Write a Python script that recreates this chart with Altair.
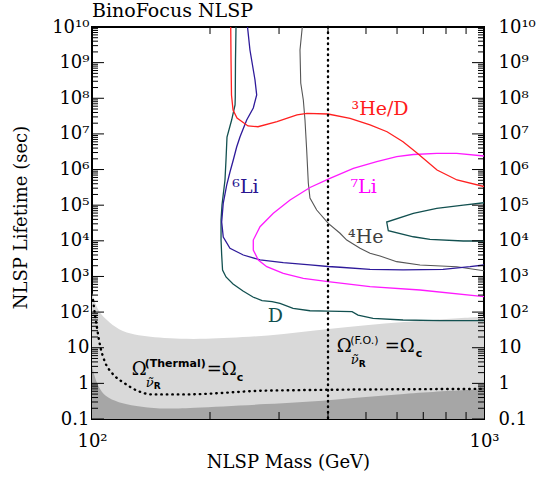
import json
import altair as alt
import pandas as pd

W, H = 392, 392

# ---------------- data ----------------
# 3He/D (red)
he3d_mass = [225.9, 226.3, 226.9, 229.0, 234.4, 250.0, 265.1, 296.5, 333.4, 353.6, 400.0,
             455.3, 512.0, 565.8, 621.5, 674.7, 758.9, 853.4, 1000.0]
he3d_life = [1e10, 1.19e9, 1.24e8, 4.69e7, 2.79e7, 1.67e7, 1.59e7, 2.2e7, 3.40e7, 3.79e7, 3.62e7,
             2.74e7, 1.78e7, 1.15e7, 6.05e6, 2.91e6, 9.7e5, 5.09e5, 3.34e5]
# D (teal), main branch
d_mass = [233.0, 232.3, 232.0, 231.7, 227.1, 221.0, 219.7, 218.4, 214.6, 213.4, 213.4, 214.2,
          215.3, 219.7, 229.0, 242.8, 257.4, 271.5, 288.0, 301.7, 325.8, 359.8, 400.0, 460.7,
          477.2, 521.1, 621.5, 772.4, 1000.0]
d_life = [1e10, 1.19e9, 1.09e8, 6.47e7, 2.45e7, 8.19e6, 1.85e6, 5.09e5, 1.01e5, 3.84e4, 1.05e4,
          4.0e3, 1.52e3, 966, 614, 391, 265, 211, 198, 176.5, 128, 109, 107, 102.5,
          82.8, 67, 60, 57.3, 57.3]
# D (teal), closed loop at high mass
dloop_mass = [1000.0, 885.6, 757.5, 660.2, 564.7, 570.0, 660.2, 728.3, 885.6, 1000.0]
dloop_life = [1.17e5, 1.01e5, 8.17e4, 5.92e4, 3.37e4, 1.92e4, 1.30e4, 1.10e4, 9.89e3, 9.89e3]
# 6Li (blue)
li6_mass = [249.3, 252.9, 260.5, 263.1, 257.9, 248.1, 238.6, 233.9, 229.3, 224.9, 220.6, 216.2,
            214.2, 216.2, 224.9, 243.2, 268.3, 307.6, 359.8, 400.0, 429.3, 512.0, 621.5, 786.2,
            921.2, 1000.0]
li6_life = [1e10, 2.26e9, 3.26e8, 1.24e8, 5.33e7, 2.45e7, 8.35e6, 4.30e6, 1.85e6, 8.53e5, 3.68e5,
            1.15e5, 3.37e4, 1.28e4, 6.17e3, 4.0e3, 2.90e3, 2.43e3, 2.10e3, 1.90e3, 1.81e3, 1.59e3,
            1.52e3, 1.59e3, 1.88e3, 2.10e3]
# 4He (grey)
he4_mass = [343.9, 339.3, 340.8, 346.0, 349.4, 352.9, 356.3, 359.8, 374.3, 400.7, 429.3, 446.5,
            482.8, 512.0, 543.0, 598.8, 686.7, 851.9, 1000.0]
he4_life = [1e10, 2.26e9, 2.68e8, 8.95e7, 2.45e7, 3.53e6, 4.19e5, 1.59e5, 7.32e4, 3.1e4, 1.63e4,
            1.05e4, 6.17e3, 4.46e3, 3.75e3, 2.6e3, 2.10e3, 1.88e3, 1.45e3]
# 7Li (magenta)
li7_mass = [1000.0, 851.9, 757.5, 660.2, 598.8, 532.6, 464.2, 404.6, 359.8, 320.1, 290.1, 268.3,
            257.9, 257.9, 265.6, 279.1, 307.6, 346.0, 400.0, 512.0, 686.7, 1000.0]
li7_life = [2.40e6, 2.86e6, 2.86e6, 2.64e6, 2.29e6, 1.66e6, 1.08e6, 5.68e5, 3.13e5, 1.40e5, 5.92e4,
            2.49e4, 1.05e4, 5.52e3, 2.90e3, 1.88e3, 1.22e3, 887, 713, 515, 417, 270]
# thermal relic line (dotted)
therm_mass = [100.6, 101.8, 103.0, 104.8, 107.9, 112.5, 121.4, 131.0, 142.3, 172.6, 284.6, 1000.0]
therm_life = [218, 82.8, 35.8, 11.9, 3.98, 1.95, 0.99, 0.61, 0.49, 0.49, 0.63, 0.70]
# shaded regions (upper boundaries)
light_mass = [100.0, 101.2, 102.8, 104.8, 109.0, 116.7, 128.8, 140.6, 156.3, 188.7,
              284.6, 400.0, 621.5, 1000.0]
light_life = [343, 218, 141.6, 92.5, 60, 31.4, 22.8, 20.4, 18.4, 17.0,
              21.3, 34.0, 53.7, 74.3]
dark_mass = [100.0, 101.8, 103.8, 107.9, 116.7, 128.8, 149.0, 172.6, 284.6, 400.0,
             621.5, 1000.0]
dark_life = [2.94, 1.41, 0.806, 0.42, 0.29, 0.23, 0.19, 0.20, 0.264, 0.33, 0.52, 0.69]
# freeze-out mass line
fo_mass = [400.0]

# curve labels
lab_text = ["³He/D", "⁷Li", "⁶Li", "⁴He", "D"]
lab_mass = [543.0, 492.9, 246.4, 499.3, 293.8]
lab_life = [3.40e7, 2.2e5, 2.2e5, 8.7e3, 53.7]
lab_color = ["#ff1a1a", "#ff00ff", "#2a1690", "#404040", "#125050"]

# Omega annotations anchors (thermal, freeze-out)
om_mass = [126.3, 421.0]
om_life = [1.72, 7.59]

# axes
y_ticks = [0.1, 1, 10, 1e2, 1e3, 1e4, 1e5, 1e6, 1e7, 1e8, 1e9, 1e10]
y_tick_labels = ["0.1", "1", "10", "10²", "10³", "10⁴", "10⁵", "10⁶", "10⁷", "10⁸", "10⁹", "10¹⁰"]
y_minor_mult = [2, 3, 4, 5, 6, 7, 8, 9]
x_ticks = [100, 1000]
x_tick_labels = ["10²", "10³"]
x_minor = [200, 300, 400, 500, 600, 700, 800, 900]

y_minor = [m * d for d in y_ticks[:-1] for m in y_minor_mult]

# ---------------- chart ----------------
SERIF = "DejaVu Serif"
SANS = "DejaVu Sans"
xscale = alt.Scale(type="log", domain=[100, 1000], nice=False)
yscale = alt.Scale(type="log", domain=[0.1, 1e10], nice=False)

y_expr = json.dumps(y_tick_labels, ensure_ascii=False) + "[round(log(datum.value)/LN10)+1]"
x_expr = json.dumps(x_tick_labels, ensure_ascii=False) + "[round(log(datum.value)/LN10)-2]"

common = dict(ticks=False, tickSize=0, domain=False, grid=False, labelFont=SERIF,
              labelFontSize=18, labelColor="black", labelOverlap=False, labelFlush=False,
              labelBound=False)
left_axis = alt.Axis(values=y_ticks, labelExpr=y_expr, orient="left", labelPadding=3,
                     title="NLSP Lifetime (sec)", titleFont=SERIF, titleFontSize=18,
                     titleFontWeight="normal", titleColor="black", titleAngle=270,
                     titleX=-66, titleY=190, titleBaseline="alphabetic", titleAlign="center",
                     **common)
right_axis = alt.Axis(values=y_ticks, labelExpr=y_expr, orient="right", labelPadding=14,
                      title=None, **common)
bottom_axis = alt.Axis(values=x_ticks, labelExpr=x_expr, orient="bottom", labelPadding=13,
                       title="NLSP Mass (GeV)", titleFont=SERIF, titleFontSize=18,
                       titleFontWeight="normal", titleColor="black", titleY=48,
                       titleBaseline="alphabetic", **common)


def df_of(mass, life):
    return pd.DataFrame({"mass": mass, "life": life, "i": list(range(len(mass)))})


def X(axis=alt.Undefined):
    return alt.X("mass:Q", scale=xscale, axis=axis)


def Y(axis=alt.Undefined):
    return alt.Y("life:Q", scale=yscale, axis=axis)


light = alt.Chart(df_of(light_mass, light_life)).mark_area(
    color="#d9d9d9", interpolate="basis", clip=True).encode(
    x=X(bottom_axis), y=Y(left_axis), y2=alt.datum(0.1))
dark = alt.Chart(df_of(dark_mass, dark_life)).mark_area(
    color="#a6a6a6", interpolate="basis", clip=True).encode(
    x=X(), y=Y(), y2=alt.datum(0.1))


def curve(mass, life, color, width=1.3):
    return alt.Chart(df_of(mass, life)).mark_line(
        color=color, strokeWidth=width, clip=True).encode(x=X(), y=Y(), order="i:Q")


lines = [
    curve(he4_mass, he4_life, "#555555", 1.1),
    curve(d_mass, d_life, "#125050"),
    curve(dloop_mass, dloop_life, "#125050"),
    curve(li6_mass, li6_life, "#2e1a9a"),
    curve(li7_mass, li7_life, "#ff1aff"),
    curve(he3d_mass, he3d_life, "#ff2020"),
]

therm = alt.Chart(df_of(therm_mass, therm_life)).mark_line(
    color="black", strokeWidth=2.4, strokeDash=[0.5, 5], strokeCap="round",
    interpolate="monotone", clip=True).encode(x=X(), y=Y(), order="i:Q")
fo = alt.Chart(pd.DataFrame({"mass": fo_mass})).mark_rule(
    color="black", strokeWidth=2.4, strokeDash=[0.5, 5], strokeCap="round").encode(x=X())

labels_df = pd.DataFrame({"mass": lab_mass, "life": lab_life, "label": lab_text})
labels = alt.Chart(labels_df).mark_text(
    font=SERIF, fontSize=19, align="center", baseline="alphabetic").encode(
    x=X(), y=Y(), text="label:N",
    color=alt.Color("label:N", scale=alt.Scale(domain=lab_text, range=lab_color), legend=None))

# Omega annotation pieces: (text, dx, dy, font, size, weight, style) per anchor
pieces_thermal = [
    ("Ω", 0, 0, SERIF, 18, "normal", "normal"),
    ("(Thermal)", 13, -8, SANS, 11, "bold", "normal"),
    ("ν\u0303", 14, 12, SERIF, 13, "normal", "italic"),
    ("R", 22, 14, SANS, 9, "bold", "normal"),
    ("=Ω", 75, 0, SERIF, 18, "normal", "normal"),
    ("c", 105, 6, SANS, 11, "bold", "normal"),
]
pieces_fo = [
    ("Ω", 0, 0, SERIF, 18, "normal", "normal"),
    ("(F.O.)", 13.5, -8, SANS, 11, "normal", "normal"),
    ("ν\u0303", 14, 12, SERIF, 13, "normal", "italic"),
    ("R", 22, 15, SANS, 9, "bold", "normal"),
    ("=Ω", 48, 0, SERIF, 18, "normal", "normal"),
    ("c", 79, 5, SANS, 11, "bold", "normal"),
]
annots = []
for k, pieces in enumerate([pieces_thermal, pieces_fo]):
    adf = pd.DataFrame({"mass": [om_mass[k]], "life": [om_life[k]]})
    for (t, dx, dy, f, s, wgt, sty) in pieces:
        annots.append(alt.Chart(adf).mark_text(
            text=t, dx=dx, dy=dy, font=f, fontSize=s, fontWeight=wgt, fontStyle=sty,
            align="left", baseline="alphabetic", color="black").encode(x=X(), y=Y()))

# inward ticks
ymaj_df = pd.DataFrame({"life": y_ticks})
ymin_df = pd.DataFrame({"life": y_minor})
xmin_df = pd.DataFrame({"mass": x_minor})
tick_layers = [
    alt.Chart(ymaj_df).mark_rule(color="black", strokeWidth=1).encode(
        y=Y(), x=alt.value(0), x2=alt.value(12)),
    alt.Chart(ymin_df).mark_rule(color="black", strokeWidth=1).encode(
        y=Y(), x=alt.value(0), x2=alt.value(6)),
    alt.Chart(ymin_df).mark_rule(color="black", strokeWidth=1).encode(
        y=Y(), x=alt.value(W - 6), x2=alt.value(W)),
    alt.Chart(xmin_df).mark_rule(color="black", strokeWidth=1).encode(
        x=X(), y=alt.value(H - 7), y2=alt.value(H)),
    alt.Chart(xmin_df).mark_rule(color="black", strokeWidth=1).encode(
        x=X(), y=alt.value(0), y2=alt.value(7)),
]

inner = alt.layer(light, dark, *lines, therm, fo, labels, *annots, *tick_layers)

right = alt.Chart(ymaj_df).mark_rule(color="black", strokeWidth=1).encode(
    y=alt.Y("life:Q", scale=yscale, axis=right_axis), x=alt.value(W - 12), x2=alt.value(W))

chart = alt.layer(inner, right).resolve_scale(y="independent").properties(
    width=W, height=H,
    padding={"left": 92, "top": 27, "right": 54, "bottom": 62},
    autosize=alt.AutoSizeParams(type="none"),
    title=alt.Title("BinoFocus NLSP", anchor="start", frame="group", font=SERIF, fontSize=19,
                    fontWeight="normal", color="black", baseline="alphabetic", offset=0,
                    dy=18),
    background="white",
).configure_view(stroke="black", strokeWidth=2)

chart.save("out.html", embed_options={"renderer": "svg", "actions": False})
